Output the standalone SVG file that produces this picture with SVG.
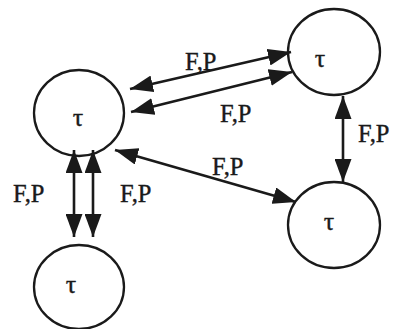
<svg xmlns="http://www.w3.org/2000/svg" width="393" height="329" viewBox="0 0 393 329">
<style>
.node{fill:none;stroke:#1a1a1a;stroke-width:2.3}
.edge{stroke:#1a1a1a;stroke-width:2.6;fill:none;marker-start:url(#ah);marker-end:url(#ah)}
.lbl{font-family:"Liberation Serif","Times New Roman",serif;font-size:24.5px;fill:#1a1a1a;stroke:#1a1a1a;stroke-width:0.4}
.tau{font-family:"Liberation Serif","Times New Roman",serif;font-size:26px;fill:#1a1a1a;stroke:#1a1a1a;stroke-width:0.4;text-anchor:middle}
</style>
<defs>
<marker id="ah" viewBox="0 0 23 17" refX="23" refY="8.5" markerWidth="23" markerHeight="17" markerUnits="userSpaceOnUse" orient="auto-start-reverse">
<path d="M0,0 L23,8.5 L0,17 z" fill="#1a1a1a"/>
</marker>
</defs>
<rect width="393" height="329" fill="#ffffff"/>
<g id="n-left"><ellipse class="node" cx="79" cy="113" rx="45" ry="43"/><text class="tau" x="78" y="126">τ</text></g>
<g id="n-topright"><ellipse class="node" cx="334" cy="52" rx="46" ry="43"/><text class="tau" x="320" y="67">τ</text></g>
<g id="n-bottomright"><ellipse class="node" cx="334" cy="225" rx="46" ry="43"/><text class="tau" x="329" y="230">τ</text></g>
<g id="n-bottomleft"><ellipse class="node" cx="79" cy="287" rx="45" ry="42"/><text class="tau" x="71" y="293">τ</text></g>
<g id="connectors">
<line class="edge" x1="130" y1="89" x2="291" y2="52"/>
<line class="edge" x1="131" y1="112" x2="292" y2="72"/>
<line class="edge" x1="115" y1="150" x2="296" y2="202"/>
<line class="edge" x1="343" y1="96" x2="343" y2="182"/>
<line class="edge" x1="74" y1="150" x2="74" y2="237"/>
<line class="edge" x1="93" y1="150" x2="93" y2="237"/>
</g>
<g id="labels">
<text class="lbl" x="185" y="70">F,P</text>
<text class="lbl" x="220" y="122">F,P</text>
<text class="lbl" x="358" y="142">F,P</text>
<text class="lbl" x="212" y="175">F,P</text>
<text class="lbl" x="13" y="202">F,P</text>
<text class="lbl" x="120" y="202">F,P</text>
</g>
</svg>
